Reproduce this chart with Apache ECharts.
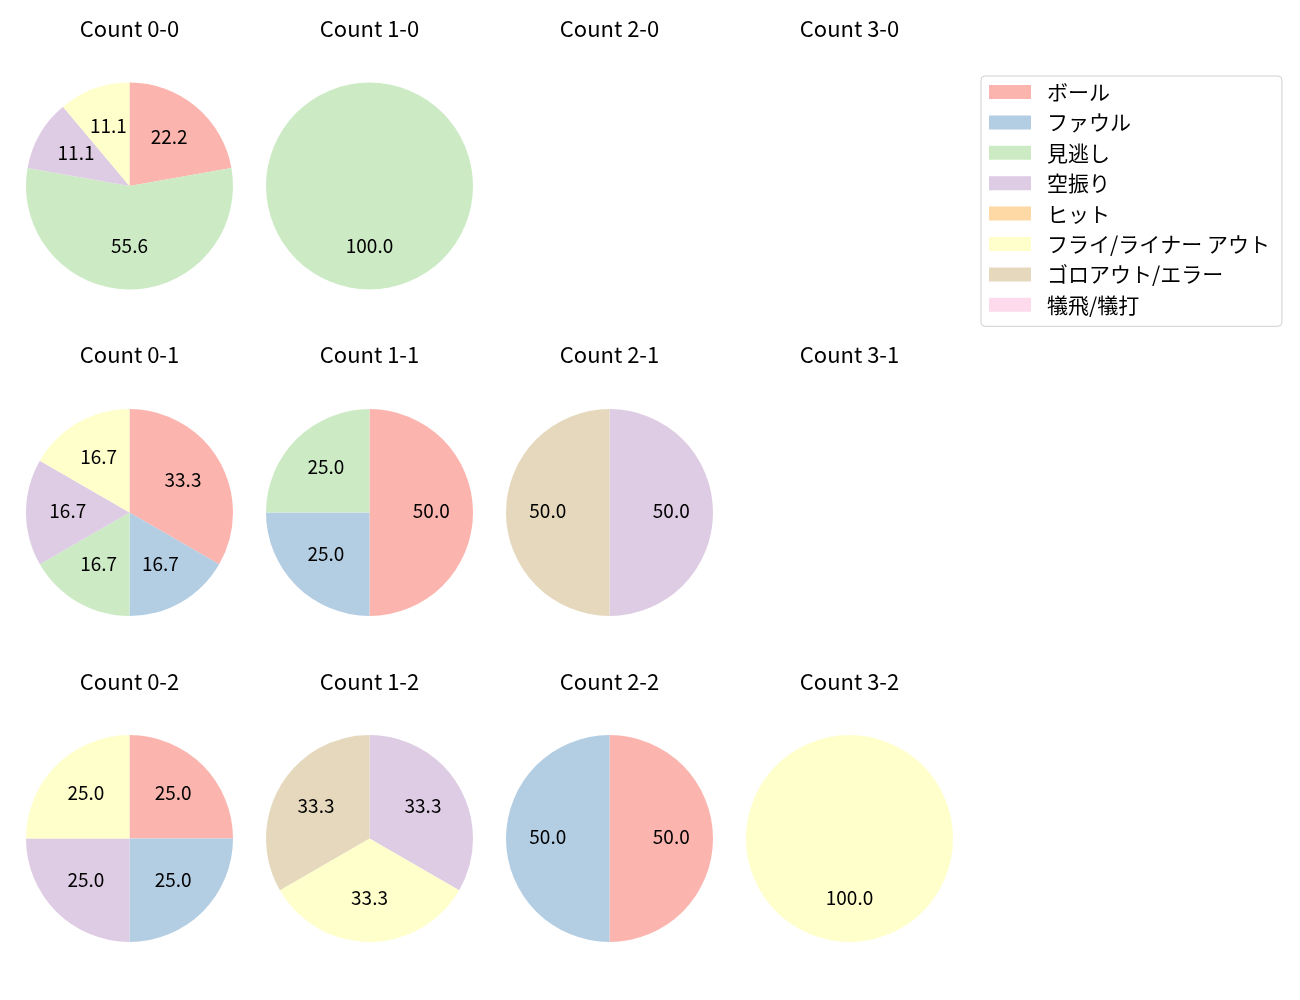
<!DOCTYPE html>
<html>
<head>
<meta charset="utf-8">
<script src="https://cdn.jsdelivr.net/npm/echarts@6/dist/echarts.min.js"></script>
<style>
html,body{margin:0;padding:0;background:#fff;}
#chart{width:1300px;height:1000px;}
</style>
</head>
<body>
<div id="chart"></div>
<script>
const categories = ['ボール', 'ファウル', '見逃し', '空振り', 'ヒット', 'フライ/ライナー アウト', 'ゴロアウト/エラー', '犠飛/犠打'];
const colors = ['#fbb4ae', '#b3cde3', '#ccebc5', '#decbe4', '#fed9a6', '#ffffcc', '#e5d8bd', '#fddaec'];

// counts per panel, in category order
const count_0_0 = [2, 0, 5, 1, 0, 1, 0, 0];
const count_1_0 = [0, 0, 1, 0, 0, 0, 0, 0];
const count_2_0 = [0, 0, 0, 0, 0, 0, 0, 0];
const count_3_0 = [0, 0, 0, 0, 0, 0, 0, 0];
const count_0_1 = [2, 1, 1, 1, 0, 1, 0, 0];
const count_1_1 = [2, 1, 1, 0, 0, 0, 0, 0];
const count_2_1 = [0, 0, 0, 1, 0, 0, 1, 0];
const count_3_1 = [0, 0, 0, 0, 0, 0, 0, 0];
const count_0_2 = [1, 1, 0, 1, 0, 1, 0, 0];
const count_1_2 = [0, 0, 0, 1, 0, 1, 1, 0];
const count_2_2 = [1, 1, 0, 0, 0, 0, 0, 0];
const count_3_2 = [0, 0, 0, 0, 0, 1, 0, 0];

const panelTitles = [
  ['Count 0-0', 'Count 1-0', 'Count 2-0', 'Count 3-0'],
  ['Count 0-1', 'Count 1-1', 'Count 2-1', 'Count 3-1'],
  ['Count 0-2', 'Count 1-2', 'Count 2-2', 'Count 3-2']
];
const panelCounts = [
  [count_0_0, count_1_0, count_2_0, count_3_0],
  [count_0_1, count_1_1, count_2_1, count_3_1],
  [count_0_2, count_1_2, count_2_2, count_3_2]
];

const colX = [129.5, 369.5, 609.5, 849.5];
const rowY = [186, 512.5, 838.5];
const titleY = [29, 355, 682];
const R = 103.5;
const FONT = '"Noto Sans CJK JP", "Noto Sans", sans-serif';

// hidden series that only feeds the legend with all category names / colours
const legendSeries = {
  type: 'pie',
  center: [-500, -500],
  radius: [0, 1],
  silent: true,
  animation: false,
  label: { show: false },
  labelLine: { show: false },
  emphasis: { disabled: true },
  data: categories.map((name, i) => ({ name: name, value: 1, itemStyle: { color: colors[i] } }))
};

const drawSeries = [];
const labelSeries = [];
const graphics = [];

for (let r = 0; r < 3; r++) {
  for (let c = 0; c < 4; c++) {
    graphics.push({
      type: 'text',
      x: colX[c], y: titleY[r],
      style: {
        text: panelTitles[r][c],
        align: 'center', verticalAlign: 'middle',
        font: '22px ' + FONT,
        fill: '#000'
      }
    });
    const vals = panelCounts[r][c];
    const sum = vals.reduce((a, b) => a + b, 0);
    if (sum === 0) continue;
    const data = [];
    const labelData = [];
    categories.forEach((name, i) => {
      if (vals[i] > 0) {
        data.push({ name: name, value: vals[i], itemStyle: { color: colors[i] } });
        labelData.push({ name: name, value: vals[i], itemStyle: { color: 'rgba(0,0,0,0)' } });
      }
    });
    drawSeries.push({
      type: 'pie',
      center: [colX[c], rowY[r]],
      radius: [0, R],
      startAngle: 90,
      clockwise: true,
      avoidLabelOverlap: false,
      animation: false,
      silent: true,
      label: { show: false },
      labelLine: { show: false },
      emphasis: { disabled: true },
      itemStyle: { borderWidth: 0 },
      data: data
    });
    labelSeries.push({
      type: 'pie',
      center: [colX[c], rowY[r]],
      radius: [14, R],
      startAngle: 90,
      clockwise: true,
      avoidLabelOverlap: false,
      animation: false,
      silent: true,
      labelLine: { show: false },
      emphasis: { disabled: true },
      itemStyle: { borderWidth: 0 },
      label: {
        show: true,
        position: 'inside',
        fontFamily: FONT,
        fontSize: 19,
        color: '#000',
        offset: [0, -2],
        formatter: function (p) { return (p.value / sum * 100).toFixed(1); }
      },
      data: labelData
    });
  }
}

const chart = echarts.init(document.getElementById('chart'), null, { renderer: 'canvas' });
chart.setOption({
  backgroundColor: '#fff',
  animation: false,
  legend: {
    show: true,
    orient: 'vertical',
    left: 981,
    top: 76,
    data: categories,
    itemWidth: 42,
    itemHeight: 14,
    itemGap: 9.4,
    icon: 'rect',
    padding: [5.5, 12, 11, 8],
    borderColor: '#d0d0d0',
    borderWidth: 1,
    borderRadius: 4,
    selectedMode: false,
    textStyle: {
      fontFamily: FONT,
      fontSize: 21,
      color: '#000',
      padding: [0, 0, 0, 11]
    }
  },
  graphic: graphics,
  series: [legendSeries].concat(drawSeries, labelSeries)
});
</script>
</body>
</html>
